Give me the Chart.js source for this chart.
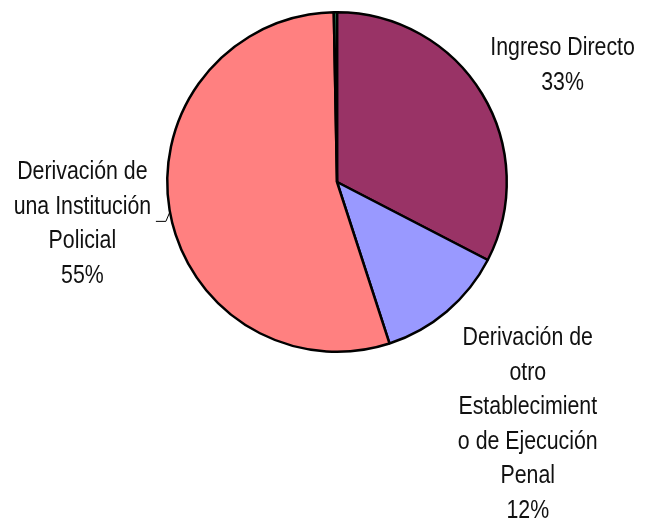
<!DOCTYPE html>
<html><head><meta charset="utf-8">
<script src="https://cdn.jsdelivr.net/npm/chart.js@4"></script>
<style>html,body{margin:0;padding:0;background:#fff;}#wrap{width:647px;height:519px;}</style>
</head><body><div id="wrap"><canvas id="c" width="647" height="519"></canvas></div>
<script>
const categories = ["Ingreso Directo", "Derivación de otro Establecimiento de Ejecución Penal", "Derivación de una Institución Policial", "Otro"];
const values = [32.6, 12.4, 54.7, 0.3];
const labelLines = [
  ["Ingreso Directo", "33%"],
  ["Derivación de", "otro", "Establecimient", "o de Ejecución", "Penal", "12%"],
  ["Derivación de", "una Institución", "Policial", "55%"],
  null
];
const colors = ["#993366", "#9999FF", "#FF8080", "#339966"];

// label anchors (center x, first-line baseline y) relative to pie center, in units of radius
const labelAnchors = [[1.329, -0.748], [1.124, 0.962], [-1.5, -0.015], null];

const labelPlugin = {
  id: 'pieLabels',
  afterDatasetsDraw(chart) {
    const ctx = chart.ctx;
    const arc = chart.getDatasetMeta(0).data[0];
    const cx = arc.x, cy = arc.y, r = arc.outerRadius;
    ctx.save();
    ctx.font = '26px "Liberation Sans", Arial, sans-serif';
    ctx.fillStyle = '#111';
    ctx.textAlign = 'center';
    ctx.textBaseline = 'alphabetic';
    const lh = 34.5;
    const sx = 0.82;
    labelLines.forEach((lines, i) => {
      if (!lines) return;
      const a = labelAnchors[i];
      const x = cx + a[0] * r, y0 = cy + a[1] * r;
      lines.forEach((t, k) => {
        ctx.save();
        ctx.translate(x, y0 + k * lh);
        ctx.scale(sx, 1);
        ctx.fillText(t, 0, 0);
        ctx.restore();
      });
    });
    // leader line for left label
    const ly = cy + 0.229 * r;
    const ty = ly - 9;
    const ex = cx - Math.sqrt(r * r - (ty - cy) * (ty - cy));
    ctx.strokeStyle = '#000';
    ctx.lineWidth = 1;
    ctx.beginPath();
    ctx.moveTo(ex - 14, ly + 0.5);
    ctx.lineTo(ex - 4, ly + 0.5);
    ctx.lineTo(ex, ty);
    ctx.stroke();
    ctx.restore();
  }
};

new Chart(document.getElementById('c'), {
  type: 'pie',
  data: {
    labels: categories,
    datasets: [{
      data: values,
      backgroundColor: colors,
      borderColor: '#000',
      borderWidth: 2.5,
      borderAlign: 'center'
    }]
  },
  options: {
    responsive: false,
    animation: false,
    layout: { padding: { top: 11, bottom: 166, left: 166, right: 139 } },
    plugins: { legend: { display: false }, tooltip: { enabled: false } }
  },
  plugins: [labelPlugin]
});
</script>
</body></html>
